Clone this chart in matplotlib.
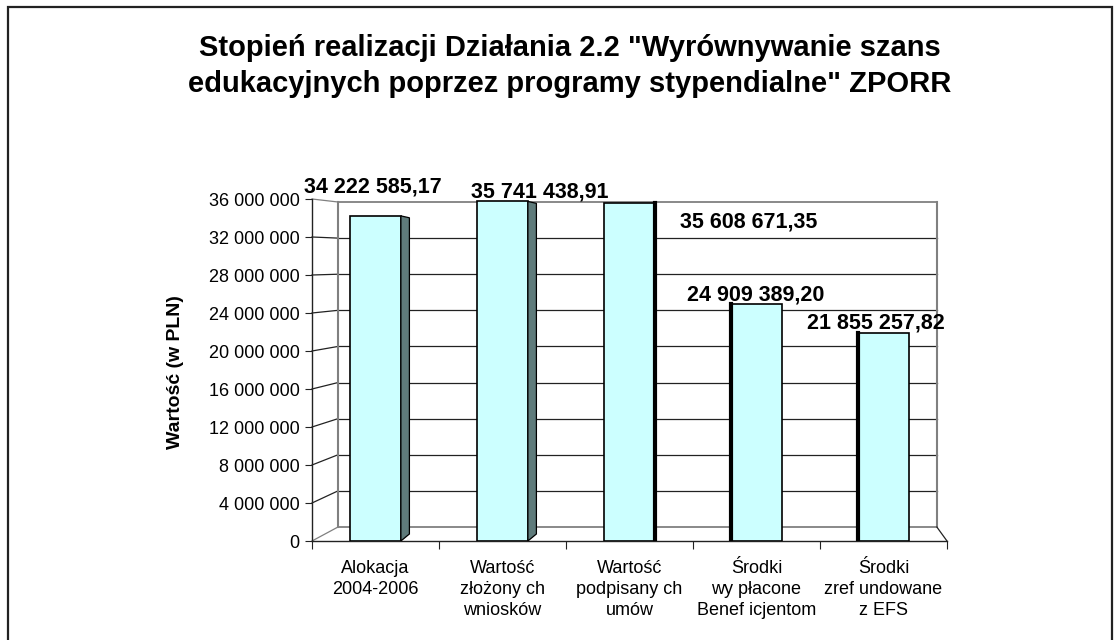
import matplotlib
matplotlib.use("Agg")
import matplotlib.pyplot as plt
from matplotlib.patches import Polygon, Rectangle
from matplotlib.ticker import FixedLocator, FuncFormatter

# ---------------- data ----------------
categories = [
    "Alokacja\n2004-2006",
    "Wartość\nzłożony ch\nwniosków",
    "Wartość\npodpisany ch\numów",
    "Środki\nwy płacone\nBenef icjentom",
    "Środki\nzref undowane\nz EFS",
]
values = [34222585.17, 35741438.91, 35608671.35, 24909389.20, 21855257.82]
value_labels = ["34 222 585,17", "35 741 438,91", "35 608 671,35",
                "24 909 389,20", "21 855 257,82"]
y_ticks = [0, 4000000, 8000000, 12000000, 16000000, 20000000,
           24000000, 28000000, 32000000, 36000000]
title = ('Stopień realizacji Działania 2.2 "Wyrównywanie szans\n'
         'edukacyjnych poprzez programy stypendialne" ZPORR')
y_label = "Wartość (w PLN)"

# ---------------- style ----------------
FONT = "Liberation Sans"
W, H = 1115, 640
bar_color = "#ccffff"
side_color = "#5f7b7b"
label_offsets_px = [(-3, -29), (37, -9), (119, 19), (-1, -9), (-8, -10)]
bar_side = ["right3d", "right3d", "right", "left", "left"]

fig = plt.figure(figsize=(W / 100, H / 100), dpi=100)
fig.patch.set_facecolor("white")

# outer border
fig.patches.append(Rectangle((8 / W, -6 / H), 1104 / W, 639 / H,
                             transform=fig.transFigure, fill=False,
                             edgecolor="#222222", linewidth=1.6))

ax = fig.add_axes([312 / W, (H - 541) / H, 635 / W, 342 / H])
ymax = 36000000
ax.set_xlim(0, len(categories))
ax.set_ylim(0, ymax)

# back wall geometry (pseudo 3D)
dxw = 26 / 127.0
x_right = 4.92
def back(v):
    return 14 / 342 * ymax + v * (325 / 342)

grid_c = "#808080"
for v in y_ticks:
    c = grid_c if v in (0, ymax) else "#222222"
    ax.plot([dxw, x_right], [back(v), back(v)], color=c, lw=0.9 if c != grid_c else 1.3,
            zorder=1, clip_on=False)
    ax.plot([0, dxw], [v, back(v)], color=c if v != 0 else grid_c, lw=0.9,
            zorder=1, clip_on=False)
ax.plot([dxw, dxw], [back(0), back(ymax)], color=grid_c, lw=1.5, zorder=1, clip_on=False)
ax.plot([x_right, x_right], [back(0), back(ymax)], color=grid_c, lw=1.5, zorder=1, clip_on=False)
ax.plot([x_right, len(categories)], [back(0), 0], color="#222222", lw=0.9, zorder=1, clip_on=False)

# bars
xs = [i + 0.5 for i in range(len(categories))]
bw = 0.40
ax.bar(xs, values, width=bw, color=bar_color, edgecolor="black",
       linewidth=1.2, zorder=3)
for x, v, side in zip(xs, values, bar_side):
    xl, xr = x - bw / 2, x + bw / 2
    if side == "right3d":
        poly = Polygon([(xr, 0), (xr, v), (xr + 0.067, v - 0.2e6),
                        (xr + 0.067, 0.74e6)], closed=True,
                       facecolor=side_color, edgecolor="black", lw=0.9, zorder=4)
        ax.add_patch(poly)
    elif side == "right":
        ax.plot([xr, xr], [0, v], color="black", lw=3, zorder=4)
    elif side == "left":
        ax.plot([xl, xl], [0, v], color="black", lw=3, zorder=4)

# value labels
for x, v, lab, (dx, dy) in zip(xs, values, value_labels, label_offsets_px):
    ax.annotate(lab, xy=(x, v), xytext=(dx * 0.72, -dy * 0.72),
                textcoords="offset points", ha="center", va="center",
                fontsize=15.5, fontweight="bold", family=FONT, zorder=6,
                annotation_clip=False)

# axes styling
for s in ["top", "right"]:
    ax.spines[s].set_visible(False)
ax.spines["left"].set_color("#222222")
ax.spines["bottom"].set_color("#222222")
ax.spines["left"].set_linewidth(1.0)
ax.spines["bottom"].set_linewidth(1.0)
ax.yaxis.set_major_locator(FixedLocator(y_ticks))
ax.yaxis.set_major_formatter(FuncFormatter(lambda v, p: f"{int(v):,}".replace(",", " ")))
ax.xaxis.set_major_locator(FixedLocator(range(len(categories) + 1)))
ax.xaxis.set_major_formatter(FuncFormatter(lambda v, p: ""))
ax.xaxis.set_minor_locator(FixedLocator(xs))
ax.set_xticklabels(categories, minor=True)
ax.tick_params(axis="x", which="minor", length=0, pad=14)
ax.tick_params(axis="x", which="major", length=6, direction="out", color="#222222")
ax.tick_params(axis="y", length=5, direction="out", pad=4, color="#222222")
for t in ax.get_yticklabels():
    t.set_fontsize(13)
    t.set_family(FONT)
for t in ax.get_xticklabels(minor=True):
    t.set_fontsize(13)
    t.set_family(FONT)
    t.set_linespacing(1.3)
    t.set_va("top")
ax.set_facecolor("none")

fig.text(175 / W, 1 - 372 / H, y_label, rotation=90, ha="center", va="center",
         fontsize=14, fontweight="bold", family=FONT)
fig.text(570 / W, 1 - 66 / H, title, ha="center", va="center",
         fontsize=21, fontweight="bold", family=FONT, linespacing=1.4)

fig.savefig("out.png", dpi=100, facecolor="white")
